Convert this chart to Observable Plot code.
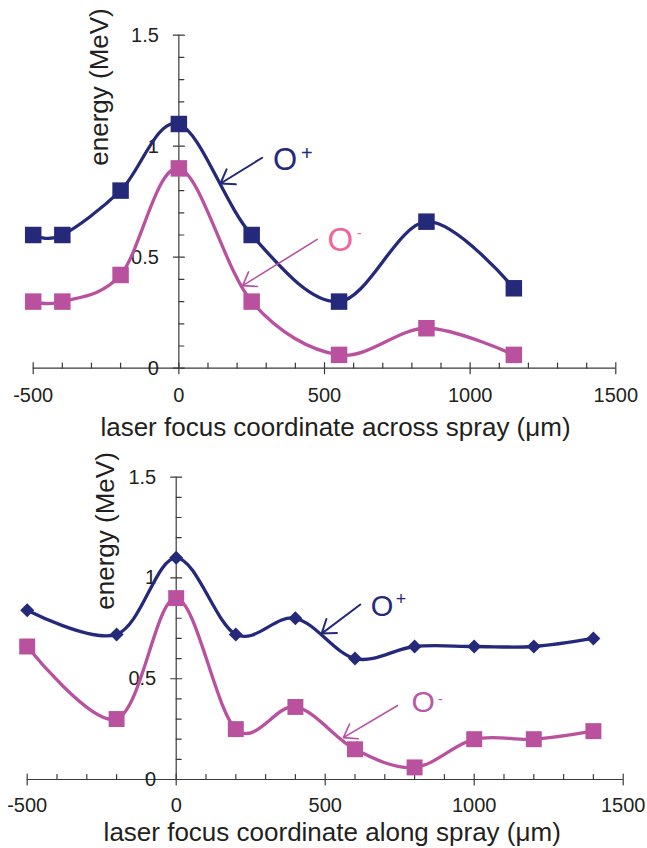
<!DOCTYPE html>
<html>
<head>
<meta charset="utf-8">
<script src="https://cdn.jsdelivr.net/npm/d3@7"></script>
<script src="https://cdn.jsdelivr.net/npm/@observablehq/plot@0.6"></script>
<style>
  html, body { margin: 0; padding: 0; background: #fff; }
  #chart svg { display: block; overflow: visible; }
</style>
</head>
<body>
<div id="chart"></div>
<script>
// ---------- data ----------
const xDomain = [-500, 1500];
const yDomain = [0, 1.5];
const xMajor = [-500, 0, 500, 1000, 1500];
const xTickLabels = ["-500", "0", "500", "1000", "1500"];
const yMajor = [0, 0.5, 1, 1.5];
const yTickLabels = ["0", "0.5", "1", "1.5"];
const xMinor = [-400, -300, -200, -100, 100, 200, 300, 400, 600, 700, 800, 900, 1100, 1200, 1300, 1400];
const yMinor = [0.1, 0.2, 0.3, 0.4, 0.6, 0.7, 0.8, 0.9, 1.1, 1.2, 1.3, 1.4];

// top panel: across spray
const acrossX = [-500, -400, -200, 0, 250, 550, 850, 1150];
const acrossOplus = [0.60, 0.60, 0.80, 1.10, 0.60, 0.30, 0.66, 0.36];
const acrossOminus = [0.30, 0.30, 0.42, 0.90, 0.30, 0.06, 0.18, 0.06];

// bottom panel: along spray
const alongX = [-500, -200, 0, 200, 400, 600, 800, 1000, 1200, 1400];
const alongOplus = [0.84, 0.72, 1.10, 0.72, 0.80, 0.60, 0.66, 0.66, 0.66, 0.70];
const alongOminus = [0.66, 0.30, 0.90, 0.25, 0.36, 0.15, 0.06, 0.20, 0.20, 0.24];

// annotations (data units): [O+ , O-]
const acrossLabelX = [323, 510];
const acrossLabelY = [0.894, 0.530];
const acrossArrowX1 = [286, 475];
const acrossArrowY1 = [0.948, 0.580];
const acrossArrowX2 = [143, 219];
const acrossArrowY2 = [0.832, 0.372];

const alongLabelX = [653, 790];
const alongLabelY = [0.813, 0.334];
const alongArrowX1 = [618, 743];
const alongArrowY1 = [0.868, 0.367];
const alongArrowX2 = [488, 561];
const alongArrowY2 = [0.724, 0.208];

const ionNames = ["O", "O"];
const ionCharges = ["+", "-"];

// ---------- styles ----------
const navy = "#25297a";
const magenta = "#b9519e";
const pink = "#f0669b";
const lightMagenta = "#b858a8";
const ink = "#231f20";
const axisColor = "#3a3a3a";
const font = "'Liberation Sans', Arial, Helvetica, sans-serif";

const tickShape = {
  draw(context, length) {
    context.moveTo(0, 0);
    context.lineTo(0, -length);
  }
};

function axisMarks(tickDy) {
  return [
    Plot.ruleY([yDomain[0]], {x1: xDomain[0], x2: xDomain[1], y: d => d, stroke: axisColor, strokeWidth: 1.2}),
    Plot.ruleX([0], {y1: yDomain[0], y2: yDomain[1], x: d => d, stroke: axisColor, strokeWidth: 1.2}),
    Plot.vector(xMajor, {x: d => d, y: () => 0, length: 11, rotate: 0, anchor: "middle", shape: tickShape, stroke: axisColor, strokeWidth: 1.2}),
    Plot.vector(xMinor, {x: d => d, y: () => 0, length: 5, rotate: 0, anchor: "start", shape: tickShape, stroke: axisColor, strokeWidth: 1.2}),
    Plot.vector(yMajor, {x: () => 0, y: d => d, length: 11, rotate: 90, anchor: "middle", shape: tickShape, stroke: axisColor, strokeWidth: 1.2}),
    Plot.vector(yMinor, {x: () => 0, y: d => d, length: 5, rotate: 90, anchor: "start", shape: tickShape, stroke: axisColor, strokeWidth: 1.2}),
    Plot.text(xMajor, {x: d => d, y: () => 0, text: xTickLabels, textAnchor: "middle", lineAnchor: "top", dy: tickDy, fontSize: 20, fill: ink}),
    Plot.text(yMajor, {x: () => 0, y: d => d, text: yTickLabels, textAnchor: "end", lineAnchor: "middle", dx: -20, fontSize: 20, fill: ink})
  ];
}

function ionLabel(name, charge, x, y, color, size, supSize, supDx, supDy) {
  return [
    Plot.text([name], {x: () => x, y: () => y, text: d => d, fill: color, fontSize: size, textAnchor: "start", lineAnchor: "bottom"}),
    Plot.text([charge], {x: () => x, y: () => y, text: d => d, fill: color, fontSize: supSize, textAnchor: "start", lineAnchor: "bottom", dx: supDx, dy: supDy})
  ];
}

function pointer(x1, y1, x2, y2, color, sw, head) {
  return Plot.arrow([0], {x1: () => x1, y1: () => y1, x2: () => x2, y2: () => y2, stroke: color, strokeWidth: sw, headLength: head, headAngle: 70});
}

const container = document.getElementById("chart");

// ---------- top panel ----------
const acrossChart = Plot.plot({
  width: 647,
  height: 446,
  marginTop: 34.7,
  marginBottom: 78.3,
  marginLeft: 32.7,
  marginRight: 31.7,
  x: {domain: xDomain, axis: null},
  y: {domain: yDomain, axis: null},
  style: {fontFamily: font, background: "#fff", overflow: "visible"},
  marks: [
    ...axisMarks(19.5),
    Plot.text(["energy (MeV)"], {frameAnchor: "left", text: d => d, rotate: -90, dx: 66.3, dy: -114.7, fontSize: 26, fill: ink, textAnchor: "middle", lineAnchor: "middle"}),
    Plot.text(["laser focus coordinate across spray (\u03bcm)"], {frameAnchor: "bottom", text: d => d, dx: 11, dy: 68, fontSize: 26, fill: ink, textAnchor: "middle", lineAnchor: "bottom"}),
    Plot.line(acrossOminus, {x: acrossX, y: acrossOminus, curve: "cardinal", tension: 0, stroke: magenta, strokeWidth: 3.3}),
    Plot.line(acrossOplus, {x: acrossX, y: acrossOplus, curve: "cardinal", tension: 0, stroke: navy, strokeWidth: 3.3}),
    Plot.dot(acrossOminus, {x: acrossX, y: acrossOminus, symbol: "square", r: 9.3, fill: magenta, stroke: null}),
    Plot.dot(acrossOplus, {x: acrossX, y: acrossOplus, symbol: "square", r: 9.3, fill: navy, stroke: null}),
    pointer(acrossArrowX1[0], acrossArrowY1[0], acrossArrowX2[0], acrossArrowY2[0], navy, 2, 11.5),
    pointer(acrossArrowX1[1], acrossArrowY1[1], acrossArrowX2[1], acrossArrowY2[1], magenta, 1.6, 14),
    ...ionLabel(ionNames[0], ionCharges[0], acrossLabelX[0], acrossLabelY[0], navy, 31, 20, 28, -9.8),
    ...ionLabel(ionNames[1], ionCharges[1], acrossLabelX[1], acrossLabelY[1], pink, 33, 14, 29.5, -13)
  ]
});
container.appendChild(acrossChart);

// ---------- bottom panel ----------
const alongChart = Plot.plot({
  width: 647,
  height: 402,
  marginTop: 30.7,
  marginBottom: 69,
  marginLeft: 26.7,
  marginRight: 24.3,
  x: {domain: xDomain, axis: null},
  y: {domain: yDomain, axis: null},
  style: {fontFamily: font, background: "#fff", overflow: "visible"},
  marks: [
    ...axisMarks(18.5),
    Plot.text(["energy (MeV)"], {frameAnchor: "left", text: d => d, rotate: -90, dx: 78.3, dy: -97.4, fontSize: 26, fill: ink, textAnchor: "middle", lineAnchor: "middle"}),
    Plot.text(["laser focus coordinate along spray (\u03bcm)"], {frameAnchor: "bottom", text: d => d, dx: 7, dy: 61.5, fontSize: 26, fill: ink, textAnchor: "middle", lineAnchor: "bottom"}),
    Plot.line(alongOminus, {x: alongX, y: alongOminus, curve: "cardinal", tension: 0, stroke: magenta, strokeWidth: 3.3}),
    Plot.line(alongOplus, {x: alongX, y: alongOplus, curve: "cardinal", tension: 0, stroke: navy, strokeWidth: 3.3}),
    Plot.dot(alongOminus, {x: alongX, y: alongOminus, symbol: "square", r: 9, fill: magenta, stroke: null}),
    Plot.dot(alongOplus, {x: alongX, y: alongOplus, symbol: "diamond2", r: 6.3, fill: navy, stroke: null}),
    pointer(alongArrowX1[0], alongArrowY1[0], alongArrowX2[0], alongArrowY2[0], navy, 2, 11.5),
    pointer(alongArrowX1[1], alongArrowY1[1], alongArrowX2[1], alongArrowY2[1], magenta, 1.6, 14),
    ...ionLabel(ionNames[0], ionCharges[0], alongLabelX[0], alongLabelY[0], navy, 29, 18, 25, -10.3),
    ...ionLabel(ionNames[1], ionCharges[1], alongLabelX[1], alongLabelY[1], lightMagenta, 30, 14, 26.5, -8.5)
  ]
});
container.appendChild(alongChart);
</script>
</body>
</html>
